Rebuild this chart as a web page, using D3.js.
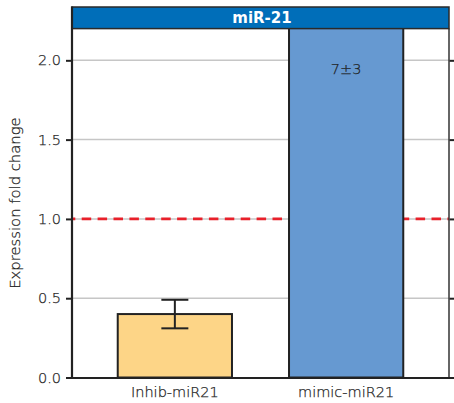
<!DOCTYPE html>
<html>
<head>
<meta charset="utf-8">
<script src="https://cdn.jsdelivr.net/npm/d3@7"></script>
<style>
  html, body { margin: 0; padding: 0; background: #fff; }
  svg { display: block; }
  text { font-family: "DejaVu Sans", "Liberation Sans", sans-serif; }
  .light { fill: #1e1e1e; stroke: #1e1e1e; stroke-width: 0.25px; }
</style>
</head>
<body>
<svg id="chart" width="454" height="403"></svg>
<script>
// Expression data for miR-21
const categories = ["Inhib-miR21", "mimic-miR21"];
const foldChange = [0.40, 7];
const errors = [0.09, 3];
const barColors = ["#FDD587", "#6699D1"];
const yTicks = [0.0, 0.5, 1.0, 1.5, 2.0];
const panelTitle = "miR-21";
const yTitle = "Expression fold change";
const referenceLevel = 1.0;

const svg = d3.select("#chart");
const m = { left: 72, right: 449, top: 28.6, bottom: 377.5, stripTop: 7 };
const lightFont = "200";

const y = d3.scaleLinear().domain([0, 2.2]).range([m.bottom, m.top]);
const x = d3.scaleBand().domain(categories).range([m.left, m.right])
  .paddingInner(1 - 0.667).paddingOuter(0.267);

// clip bars to the panel
svg.append("clipPath").attr("id", "panel")
  .append("rect").attr("x", m.left).attr("y", m.top).attr("width", m.right - m.left).attr("height", m.bottom - m.top);

// gridlines
svg.append("g").selectAll("line").data(yTicks.filter(d => d > 0)).join("line")
  .attr("x1", m.left).attr("x2", m.right)
  .attr("y1", d => y(d)).attr("y2", d => y(d))
  .attr("stroke", "#c6c6c6").attr("stroke-width", 1.5);

// reference line at fold change 1 (under the bars)
svg.append("line")
  .attr("x1", m.left).attr("x2", m.right)
  .attr("y1", y(referenceLevel)).attr("y2", y(referenceLevel))
  .attr("stroke", "#E8202A").attr("stroke-width", 2.6)
  .attr("stroke-dasharray", "9.5,6.4").attr("stroke-dashoffset", -9.7);

const data = categories.map((c, i) => ({ c, v: foldChange[i], e: errors[i], col: barColors[i] }));

const g = svg.append("g").attr("clip-path", "url(#panel)");
g.selectAll("rect.bar").data(data).join("rect")
  .attr("class", "bar")
  .attr("x", d => x(d.c)).attr("width", x.bandwidth())
  .attr("y", d => y(d.v)).attr("height", d => y(0) - y(d.v))
  .attr("fill", d => d.col).attr("stroke", "#222").attr("stroke-width", 2);

// error bars for values inside the axis range
const inRange = data.filter(d => d.v + d.e <= 2.2);
const eb = svg.append("g").attr("stroke", "#222").attr("stroke-width", 2);
inRange.forEach(d => {
  const cx = x(d.c) + x.bandwidth() / 2;
  eb.append("line").attr("x1", cx).attr("x2", cx).attr("y1", y(d.v + d.e)).attr("y2", y(d.v - d.e));
  eb.append("line").attr("x1", cx - 13.5).attr("x2", cx + 13.5).attr("y1", y(d.v + d.e)).attr("y2", y(d.v + d.e));
  eb.append("line").attr("x1", cx - 13.5).attr("x2", cx + 13.5).attr("y1", y(d.v - d.e)).attr("y2", y(d.v - d.e));
});

// value labels for bars beyond the axis range
data.filter(d => d.v > 2.2).forEach(d => {
  svg.append("text").attr("class", "light")
    .attr("x", x(d.c) + x.bandwidth() / 2).attr("y", y(2.2) + 45.5)
    .attr("text-anchor", "middle").attr("font-size", 14.5).attr("font-weight", lightFont)
    .text(`${d.v}±${d.e}`);
});

// panel right border
svg.append("line").attr("x1", m.right).attr("x2", m.right).attr("y1", m.top).attr("y2", m.bottom)
  .attr("stroke", "#333").attr("stroke-width", 1.5);

// strip
svg.append("rect").attr("x", m.left).attr("y", m.stripTop).attr("width", m.right - m.left).attr("height", m.top - m.stripTop)
  .attr("fill", "#006EB9").attr("stroke", "#2a2a2a").attr("stroke-width", 1.5);
svg.append("text").attr("x", (m.left + m.right) / 2 + 1.5).attr("y", 23.3)
  .attr("text-anchor", "middle").attr("font-size", 15).attr("font-weight", "bold")
  .attr("fill", "#fff").text(panelTitle);

// left axis
const yAxis = svg.append("g").attr("transform", `translate(${m.left},0)`)
  .call(d3.axisLeft(y).tickValues(yTicks).tickFormat(d3.format(".1f")).tickSize(6).tickPadding(5));
yAxis.select(".domain").remove();
yAxis.selectAll(".tick line").attr("stroke", "#222").attr("stroke-width", 2);
yAxis.selectAll(".tick text").attr("class", "light").attr("font-size", 14.5)
  .attr("font-family", "'DejaVu Sans', sans-serif").attr("font-weight", lightFont);
svg.append("line").attr("x1", m.left).attr("x2", m.left).attr("y1", m.stripTop - 0.5).attr("y2", m.bottom + 1)
  .attr("stroke", "#222").attr("stroke-width", 2.2);

// right axis ticks
const rAxis = svg.append("g").attr("transform", `translate(${m.right + 0.5},0)`)
  .call(d3.axisRight(y).tickValues(yTicks.filter(d => d > 0)).tickFormat("").tickSize(6));
rAxis.select(".domain").remove();
rAxis.selectAll(".tick line").attr("stroke", "#222").attr("stroke-width", 2);

// bottom axis
const xAxis = svg.append("g").attr("transform", `translate(0,${m.bottom})`)
  .call(d3.axisBottom(x).tickSize(0).tickPadding(9));
xAxis.select(".domain").remove();
xAxis.selectAll(".tick text").attr("class", "light").attr("font-size", 14.5)
  .attr("font-family", "'DejaVu Sans', sans-serif").attr("font-weight", lightFont);
svg.append("line").attr("x1", m.left - 1).attr("x2", 454).attr("y1", m.bottom + 0.5).attr("y2", m.bottom + 0.5)
  .attr("stroke", "#222").attr("stroke-width", 2.2);

// y title
svg.append("text").attr("class", "light")
  .attr("transform", `translate(20,${(m.top + m.bottom) / 2}) rotate(-90)`)
  .attr("text-anchor", "middle").attr("font-size", 14.8).attr("font-weight", lightFont)
  .text(yTitle);
</script>
</body>
</html>
